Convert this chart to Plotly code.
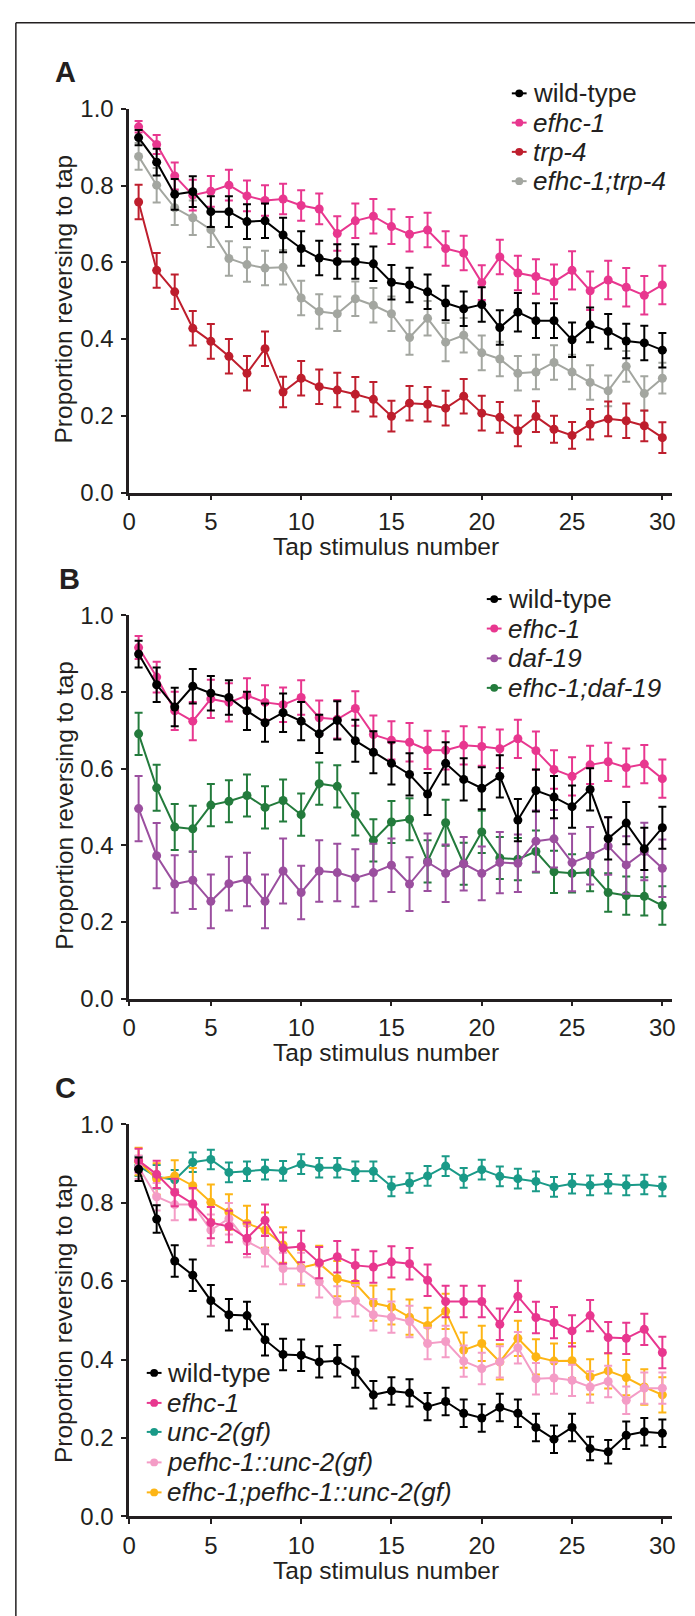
import plotly.graph_objects as go

# ---------------- data ----------------
taps = list(range(1, 31))
x_tick_vals = [0.48, 5, 10, 15, 20, 25, 30]
x_tick_text = ["0", "5", "10", "15", "20", "25", "30"]
y_tick_vals = [0.0, 0.2, 0.4, 0.6, 0.8, 1.0]
y_tick_text = ["0.0", "0.2", "0.4", "0.6", "0.8", "1.0"]

# Panel A
a_names = ["wild-type", "efhc-1", "trp-4", "efhc-1;trp-4"]
a_wt = [0.925, 0.861, 0.777, 0.784, 0.732, 0.732, 0.706, 0.708, 0.671, 0.636, 0.611, 0.602, 0.602, 0.596, 0.548,
        0.541, 0.523, 0.494, 0.479, 0.490, 0.430, 0.470, 0.448, 0.448, 0.398, 0.437, 0.420, 0.395, 0.390, 0.371]
a_wt_err = [0.02, 0.035, 0.04, 0.04, 0.04, 0.04, 0.045, 0.045, 0.045, 0.045, 0.045, 0.045, 0.045, 0.045, 0.045,
            0.045, 0.045, 0.045, 0.045, 0.045, 0.045, 0.05, 0.045, 0.045, 0.045, 0.045, 0.045, 0.045, 0.045, 0.045]
a_efhc = [0.953, 0.907, 0.825, 0.775, 0.785, 0.801, 0.773, 0.761, 0.765, 0.748, 0.739, 0.675, 0.708, 0.720, 0.693,
          0.673, 0.684, 0.636, 0.624, 0.547, 0.614, 0.572, 0.563, 0.549, 0.579, 0.526, 0.554, 0.535, 0.514, 0.541]
a_efhc_err = [0.015, 0.025, 0.035, 0.04, 0.04, 0.04, 0.04, 0.04, 0.04, 0.04, 0.04, 0.045, 0.045, 0.045, 0.045,
              0.045, 0.045, 0.045, 0.045, 0.045, 0.045, 0.045, 0.045, 0.045, 0.05, 0.05, 0.05, 0.05, 0.05, 0.05]
a_trp = [0.757, 0.579, 0.523, 0.428, 0.394, 0.355, 0.311, 0.375, 0.262, 0.298, 0.276, 0.267, 0.256, 0.243, 0.199,
         0.233, 0.230, 0.220, 0.251, 0.207, 0.196, 0.161, 0.198, 0.165, 0.149, 0.178, 0.192, 0.187, 0.174, 0.143]
a_trp_err = [0.045, 0.045, 0.045, 0.045, 0.045, 0.045, 0.045, 0.045, 0.04, 0.045, 0.045, 0.045, 0.045, 0.045, 0.04,
             0.045, 0.045, 0.045, 0.045, 0.045, 0.04, 0.04, 0.04, 0.035, 0.035, 0.04, 0.045, 0.045, 0.04, 0.04]
a_dbl = [0.876, 0.801, 0.742, 0.716, 0.685, 0.610, 0.594, 0.585, 0.587, 0.507, 0.472, 0.466, 0.505, 0.488, 0.466,
         0.404, 0.454, 0.392, 0.410, 0.364, 0.348, 0.311, 0.314, 0.339, 0.314, 0.287, 0.265, 0.329, 0.258, 0.298]
a_dbl_err = [0.035, 0.045, 0.045, 0.045, 0.045, 0.045, 0.045, 0.045, 0.045, 0.045, 0.045, 0.045, 0.045, 0.045, 0.045,
             0.045, 0.045, 0.05, 0.045, 0.045, 0.045, 0.045, 0.045, 0.045, 0.045, 0.045, 0.04, 0.04, 0.045, 0.04]

# Panel B
b_names = ["wild-type", "efhc-1", "daf-19", "efhc-1;daf-19"]
b_wt = [0.899, 0.819, 0.761, 0.815, 0.797, 0.786, 0.751, 0.720, 0.746, 0.724, 0.691, 0.726, 0.673, 0.643, 0.614,
        0.585, 0.534, 0.614, 0.572, 0.549, 0.580, 0.466, 0.543, 0.526, 0.501, 0.546, 0.418, 0.458, 0.391, 0.446]
b_wt_err = [0.035, 0.045, 0.05, 0.045, 0.045, 0.045, 0.05, 0.05, 0.05, 0.05, 0.05, 0.05, 0.055, 0.055, 0.055,
            0.055, 0.055, 0.055, 0.055, 0.055, 0.055, 0.055, 0.055, 0.055, 0.055, 0.055, 0.055, 0.055, 0.055, 0.055]
b_efhc = [0.916, 0.839, 0.751, 0.724, 0.782, 0.773, 0.791, 0.773, 0.767, 0.786, 0.733, 0.729, 0.757, 0.689, 0.674,
          0.669, 0.649, 0.648, 0.661, 0.658, 0.652, 0.678, 0.647, 0.598, 0.580, 0.610, 0.618, 0.603, 0.612, 0.574]
b_efhc_err = [0.03, 0.04, 0.05, 0.05, 0.05, 0.05, 0.045, 0.045, 0.045, 0.045, 0.045, 0.05, 0.045, 0.05, 0.05,
              0.05, 0.05, 0.05, 0.05, 0.05, 0.05, 0.05, 0.05, 0.05, 0.05, 0.05, 0.05, 0.05, 0.05, 0.05]
b_daf = [0.496, 0.373, 0.299, 0.309, 0.254, 0.300, 0.311, 0.254, 0.333, 0.277, 0.333, 0.329, 0.315, 0.329, 0.348,
         0.299, 0.356, 0.327, 0.352, 0.327, 0.355, 0.353, 0.411, 0.417, 0.355, 0.373, 0.398, 0.349, 0.384, 0.340]
b_daf_err = [0.085, 0.085, 0.075, 0.075, 0.07, 0.07, 0.07, 0.07, 0.085, 0.07, 0.08, 0.075, 0.075, 0.075, 0.07,
             0.07, 0.075, 0.075, 0.07, 0.07, 0.08, 0.075, 0.08, 0.075, 0.075, 0.075, 0.075, 0.075, 0.075, 0.075]
b_dbl = [0.691, 0.550, 0.448, 0.443, 0.505, 0.515, 0.530, 0.499, 0.517, 0.480, 0.561, 0.554, 0.481, 0.413, 0.461,
         0.468, 0.358, 0.459, 0.352, 0.435, 0.367, 0.364, 0.384, 0.331, 0.327, 0.330, 0.277, 0.269, 0.267, 0.243]
b_dbl_err = [0.055, 0.06, 0.06, 0.06, 0.055, 0.055, 0.055, 0.055, 0.055, 0.055, 0.055, 0.055, 0.055, 0.055, 0.055,
             0.055, 0.055, 0.06, 0.055, 0.055, 0.055, 0.055, 0.055, 0.055, 0.05, 0.05, 0.05, 0.05, 0.05, 0.05]

# Panel C
c_names = ["wild-type", "efhc-1", "unc-2(gf)", "pefhc-1::unc-2(gf)", "efhc-1;pefhc-1::unc-2(gf)"]
c_wt = [0.885, 0.758, 0.651, 0.615, 0.550, 0.514, 0.512, 0.450, 0.413, 0.411, 0.394, 0.397, 0.368, 0.310, 0.320,
        0.315, 0.280, 0.293, 0.263, 0.251, 0.278, 0.263, 0.227, 0.197, 0.227, 0.173, 0.165, 0.207, 0.216, 0.212]
c_wt_err = [0.03, 0.035, 0.04, 0.04, 0.04, 0.04, 0.035, 0.04, 0.04, 0.04, 0.04, 0.04, 0.04, 0.035, 0.035,
            0.035, 0.035, 0.035, 0.035, 0.035, 0.035, 0.035, 0.035, 0.035, 0.035, 0.03, 0.03, 0.035, 0.035, 0.035]
c_efhc = [0.907, 0.872, 0.826, 0.797, 0.749, 0.739, 0.709, 0.755, 0.684, 0.688, 0.647, 0.662, 0.640, 0.636, 0.649,
          0.644, 0.602, 0.548, 0.548, 0.548, 0.490, 0.561, 0.507, 0.494, 0.473, 0.512, 0.456, 0.454, 0.477, 0.418]
c_efhc_err = [0.03, 0.035, 0.035, 0.04, 0.04, 0.04, 0.04, 0.04, 0.04, 0.04, 0.04, 0.04, 0.04, 0.04, 0.04,
              0.04, 0.04, 0.04, 0.04, 0.04, 0.04, 0.04, 0.04, 0.04, 0.04, 0.04, 0.04, 0.04, 0.04, 0.04]
c_unc = [0.893, 0.866, 0.858, 0.903, 0.910, 0.877, 0.880, 0.884, 0.881, 0.898, 0.889, 0.889, 0.880, 0.880, 0.841,
         0.850, 0.868, 0.893, 0.863, 0.884, 0.867, 0.861, 0.854, 0.840, 0.848, 0.844, 0.848, 0.844, 0.846, 0.841]
c_unc_err = [0.025, 0.03, 0.025, 0.025, 0.025, 0.025, 0.025, 0.025, 0.025, 0.025, 0.025, 0.025, 0.025, 0.025, 0.025,
             0.025, 0.025, 0.025, 0.025, 0.025, 0.025, 0.025, 0.025, 0.025, 0.025, 0.025, 0.025, 0.025, 0.025, 0.025]
c_pefhc = [0.890, 0.815, 0.795, 0.795, 0.730, 0.759, 0.701, 0.677, 0.632, 0.632, 0.598, 0.547, 0.550, 0.514, 0.508,
           0.497, 0.441, 0.446, 0.396, 0.377, 0.394, 0.430, 0.351, 0.353, 0.347, 0.330, 0.344, 0.296, 0.327, 0.327]
c_pefhc_err = [0.03, 0.035, 0.04, 0.04, 0.04, 0.04, 0.04, 0.04, 0.04, 0.04, 0.04, 0.04, 0.04, 0.04, 0.04,
               0.04, 0.04, 0.04, 0.04, 0.04, 0.04, 0.04, 0.04, 0.04, 0.04, 0.04, 0.04, 0.035, 0.04, 0.04]
c_dbl = [0.905, 0.860, 0.868, 0.843, 0.801, 0.776, 0.747, 0.730, 0.692, 0.634, 0.645, 0.606, 0.594, 0.544, 0.534,
         0.508, 0.487, 0.523, 0.424, 0.441, 0.394, 0.454, 0.407, 0.396, 0.397, 0.356, 0.371, 0.354, 0.330, 0.310]
c_dbl_err = [0.035, 0.04, 0.04, 0.045, 0.045, 0.045, 0.045, 0.045, 0.045, 0.045, 0.045, 0.045, 0.045, 0.045, 0.045,
             0.045, 0.045, 0.045, 0.045, 0.045, 0.045, 0.045, 0.045, 0.045, 0.045, 0.045, 0.045, 0.045, 0.045, 0.045]

# ---------------- style ----------------
W, H = 695, 1616
INK = "#231F20"
C_BLACK = "#000000"
C_PINK = "#E8378F"
C_RED = "#BE1E2D"
C_GRAY = "#A3A6A0"
C_PURPLE = "#9B4F9F"
C_GREEN = "#237B3C"
C_TEAL = "#1A9A88"
C_LPINK = "#F49CC6"
C_ORANGE = "#FDB515"
FONT = "Arial, 'Liberation Sans', Helvetica, sans-serif"


def px_x(p):
    return p / W


def px_y(p):
    return 1 - p / H


panels = [
    dict(ax="", top=96.4, bot=486.7, letter="A", letter_xy=(46.5, 58.5),
         series=[(a_names[3], a_dbl, a_dbl_err, C_GRAY), (a_names[2], a_trp, a_trp_err, C_RED),
                 (a_names[1], a_efhc, a_efhc_err, C_PINK), (a_names[0], a_wt, a_wt_err, C_BLACK)],
         legend_names=a_names, legend_colors=[C_BLACK, C_PINK, C_RED, C_GRAY],
         leg_x=519.7, leg_y=[80.7, 110.5, 140.2, 170.0]),
    dict(ax="2", top=611.6, bot=1001.4, letter="B", letter_xy=(51.0, 574.8),
         series=[(b_names[3], b_dbl, b_dbl_err, C_GREEN), (b_names[2], b_daf, b_daf_err, C_PURPLE),
                 (b_names[1], b_efhc, b_efhc_err, C_PINK), (b_names[0], b_wt, b_wt_err, C_BLACK)],
         legend_names=b_names, legend_colors=[C_BLACK, C_PINK, C_PURPLE, C_GREEN],
         leg_x=494.3, leg_y=[595.0, 625.0, 655.3, 685.3]),
    dict(ax="3", top=1129.0, bot=1528.0, letter="C", letter_xy=(46.5, 1092.0),
         series=[(c_names[2], c_unc, c_unc_err, C_TEAL), (c_names[4], c_dbl, c_dbl_err, C_ORANGE),
                 (c_names[3], c_pefhc, c_pefhc_err, C_LPINK), (c_names[1], c_efhc, c_efhc_err, C_PINK),
                 (c_names[0], c_wt, c_wt_err, C_BLACK)],
         legend_names=c_names, legend_colors=[C_BLACK, C_PINK, C_TEAL, C_LPINK, C_ORANGE],
         leg_x=149.3, leg_y=[1382.0, 1412.5, 1442.0, 1473.0, 1503.5]),
]

X_LEFT, X_RIGHT = 124.0, 675.0

fig = go.Figure()
layout = dict(
    width=W, height=H, margin=dict(l=0, r=0, t=0, b=0),
    paper_bgcolor="white", plot_bgcolor="white",
    font=dict(family=FONT, color=INK, size=24),
    showlegend=False,
)
annotations = []
shapes = []

for p in panels:
    xa = "x" + p["ax"]
    ya = "y" + p["ax"]
    for name, vals, err, col in p["series"]:
        fig.add_trace(go.Scatter(
            x=taps, y=vals, name=name, mode="lines+markers",
            line=dict(color=col, width=2),
            marker=dict(color=col, size=9),
            error_y=dict(type="data", array=err, color=col, thickness=2, width=4),
            xaxis=xa, yaxis=ya, cliponaxis=False, showlegend=False,
        ))
    layout["xaxis" + p["ax"]] = dict(
        domain=[px_x(X_LEFT), px_x(X_RIGHT)], range=[0.48, 30.55],
        anchor=ya, showline=True, linewidth=2.5, linecolor=INK,
        ticks="outside", ticklen=5, tickwidth=2, tickcolor=INK,
        tickvals=x_tick_vals, ticktext=x_tick_text, ticklabelstandoff=1,
        tickfont=dict(size=24, color=INK, family=FONT),
        showgrid=False, zeroline=False, fixedrange=True,
    )
    layout["yaxis" + p["ax"]] = dict(
        domain=[px_y(p["bot"]), px_y(p["top"])], range=[0, 1],
        anchor=xa, showline=True, linewidth=2.5, linecolor=INK,
        ticks="outside", ticklen=5, tickwidth=2, tickcolor=INK,
        tickvals=y_tick_vals, ticktext=y_tick_text, ticklabelstandoff=3,
        tickfont=dict(size=24, color=INK, family=FONT),
        showgrid=False, zeroline=False, fixedrange=True,
    )
    # axis titles
    annotations.append(dict(
        x=px_x(384.5), y=px_y(p["bot"] + 55), xref="paper", yref="paper",
        text="Tap stimulus number", showarrow=False, xanchor="center", yanchor="middle",
        font=dict(size=24.5, color=INK, family=FONT)))
    annotations.append(dict(
        x=px_x(57.6), y=px_y((p["top"] + p["bot"]) / 2 - 2), xref="paper", yref="paper",
        text="Proportion reversing to tap", showarrow=False, textangle=-90,
        xanchor="center", yanchor="middle",
        font=dict(size=24.5, color=INK, family=FONT)))
    # panel letter
    lx, ly = p["letter_xy"]
    annotations.append(dict(
        x=px_x(lx), y=px_y(ly), xref="paper", yref="paper",
        text="<b>%s</b>" % p["letter"], showarrow=False, xanchor="left", yanchor="middle",
        font=dict(size=29, color=INK, family=FONT)))
    # legend (manual)
    for name, col, yy in zip(p["legend_names"], p["legend_colors"], p["leg_y"]):
        cx = p["leg_x"]
        shapes.append(dict(type="line", xref="paper", yref="paper",
                           x0=px_x(cx - 7.5), x1=px_x(cx + 7.5), y0=px_y(yy), y1=px_y(yy),
                           line=dict(color=col, width=2)))
        shapes.append(dict(type="circle", xref="paper", yref="paper",
                           x0=px_x(cx - 4), x1=px_x(cx + 4), y0=px_y(yy - 4), y1=px_y(yy + 4),
                           fillcolor=col, line=dict(color=col, width=0)))
        label = name if name == "wild-type" else "<i>%s</i>" % name
        annotations.append(dict(
            x=px_x(cx + 11.5), y=px_y(yy), xref="paper", yref="paper",
            text=label, showarrow=False, xanchor="left", yanchor="middle",
            font=dict(size=26, color=INK, family=FONT)))

# outer frame (top and left edges; the others run off the picture)
shapes.append(dict(type="line", xref="paper", yref="paper",
                   x0=px_x(9), x1=1.02, y0=px_y(9), y1=px_y(9), line=dict(color=INK, width=1.5)))
shapes.append(dict(type="line", xref="paper", yref="paper",
                   x0=px_x(9), x1=px_x(9), y0=px_y(9), y1=-0.02, line=dict(color=INK, width=1.5)))

layout["annotations"] = annotations
layout["shapes"] = shapes
fig.update_layout(**layout)

fig.write_html("out.html", config={"displayModeBar": False},
               post_script="document.body.style.margin='0';document.body.style.overflow='hidden';")
